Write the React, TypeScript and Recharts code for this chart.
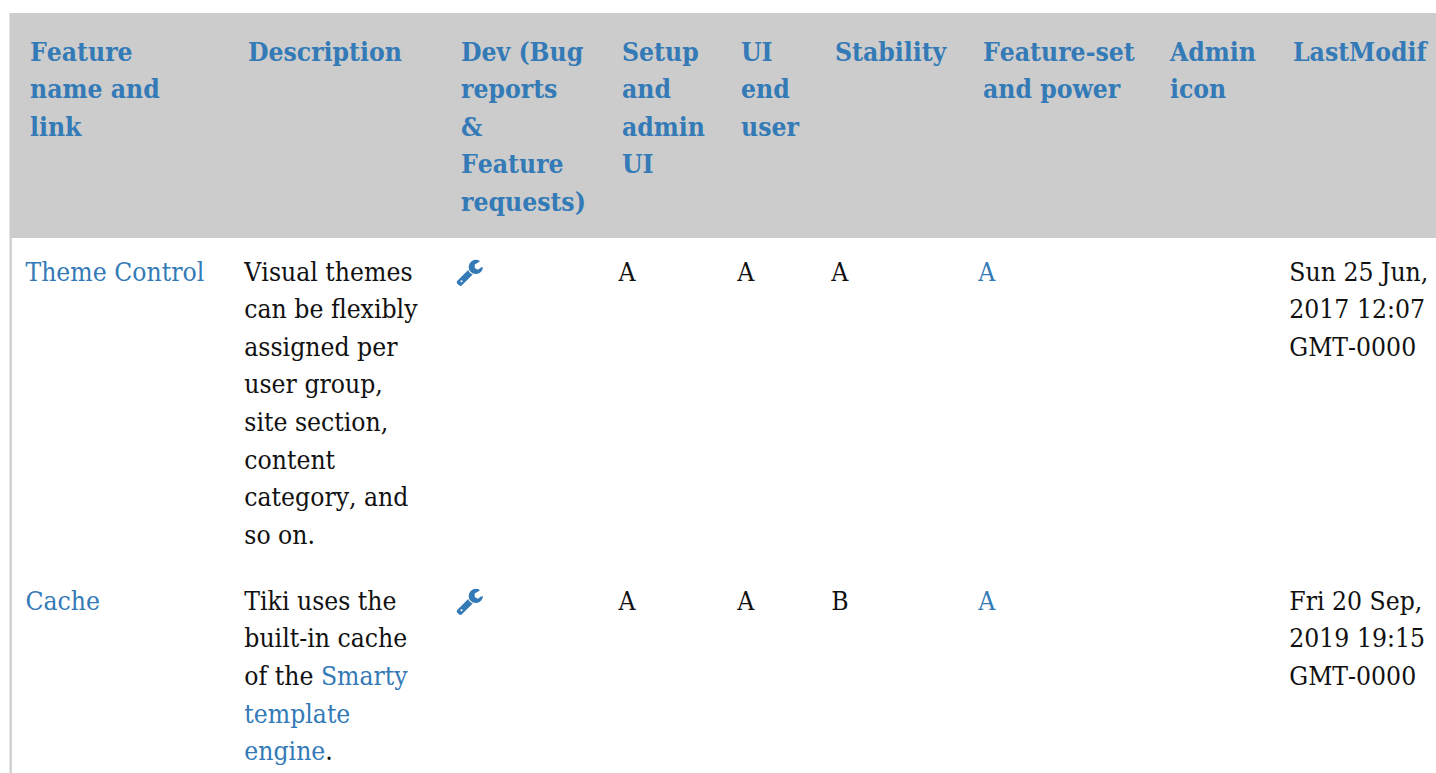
import { ScatterChart, Scatter, XAxis, YAxis, ReferenceArea, ReferenceLine } from "recharts";

const WIDTH = 1436;
const HEIGHT = 773;
const LINK = "#337ab7";
const FONT = "'DejaVu Serif Condensed', 'DejaVu Serif', serif";

// header labels, one entry per wrapped line
const headers = [
    ["Feature", "name and", "link"],
    ["Description"],
    ["Dev (Bug", "reports", "&", "Feature", "requests)"],
    ["Setup", "and", "admin", "UI"],
    ["UI", "end", "user"],
    ["Stability"],
    ["Feature-set", "and power"],
    ["Admin", "icon"],
    ["LastModif"],
];

// [text] marks a link inside a cell
const rowNames = ["[Theme Control]", "[Cache]"];
const rowDescriptions = [
    ["Visual themes", "can be flexibly", "assigned per", "user group,", "site section,", "content", "category, and", "so on."],
    ["Tiki uses the", "built-in cache", "of the [Smarty]", "[template]", "[engine]."],
];
const setupRatings = ["A", "A"];
const uiRatings = ["A", "A"];
const stabilityRatings = ["A", "B"];
const featureRatings = ["[A]", "[A]"];
const lastModified = [
    ["Sun 25 Jun,", "2017 12:07", "GMT-0000"],
    ["Fri 20 Sep,", "2019 19:15", "GMT-0000"],
];

const headerLefts = [30, 248, 461, 622, 741, 835, 983, 1170, 1293];
const columnLefts = [25.4, 244.3, 457, 618.4, 737.2, 831.2, 978.2, 1166, 1289.3];
const headerBaseline = 61;
const rowBaselines = [281, 610];
// lines snap to whole pixels, so the spacing is not quite even
const headerLineOffsets = [0, 37, 75, 112, 150];
const rowLineOffsets = [
    [0, 37, 75, 112, 150, 188, 225, 263],
    [0, 37, 75, 113, 150],
];

const WRENCH =
    "M448 1472q0-26-19-45t-45-19-45 19-19 45 19 45 45 19 45-19 19-45zm644-420l-682 682q-37 37-90 37-52 0-91-37l-106-108q-38-36-38-90 0-53 38-91l681-681q39 98 114.5 173.5t173.5 114.5zm634-435q0 39-23 106-47 134-164.5 217.5t-258.5 83.5q-185 0-316.5-131.5t-131.5-316.5 131.5-316.5 316.5-131.5q58 0 121.5 16.5t107.5 46.5q16 11 16 28t-16 28l-293 169v224l193 107q5-3 79-48.5t135.5-81 70.5-35.5q15 0 23.5 10t8.5 25z";

interface Cell {
    x: number;
    y: number;
    text?: string;
    bold?: boolean;
    icon?: boolean;
}

const cells: Cell[] = [];
headers.forEach((lines, col) => {
    lines.forEach((text, i) => {
        cells.push({ x: headerLefts[col], y: headerBaseline + headerLineOffsets[i], text, bold: true });
    });
});
rowBaselines.forEach((base, row) => {
    const columns: [number, string[]][] = [
        [0, [rowNames[row]]],
        [1, rowDescriptions[row]],
        [3, [setupRatings[row]]],
        [4, [uiRatings[row]]],
        [5, [stabilityRatings[row]]],
        [6, [featureRatings[row]]],
        [8, lastModified[row]],
    ];
    columns.forEach(([col, lines]) => {
        lines.forEach((text, i) => {
            cells.push({ x: columnLefts[col], y: base + rowLineOffsets[row][i], text });
        });
    });
    cells.push({ x: columnLefts[2], y: base, icon: true });
});

function CellMark(props: any) {
    const { cx, cy, payload } = props;
    if (payload.icon) {
        return (
            <g transform={`translate(${cx - 1.6},${cy - 23.2}) scale(0.0159)`}>
                <path d={WRENCH} fill={LINK} fillRule="evenodd" />
            </g>
        );
    }
    const parts = payload.text.split(/(\[[^\]]*\])/).filter(Boolean);
    return (
        <text
            x={cx}
            y={cy}
            fontFamily={FONT}
            fontSize={26.25}
            fontWeight={payload.bold ? 700 : 400}
            fill={payload.bold ? LINK : "#111"}
            style={{ fontKerning: "none" }}
        >
            {parts.map((p: string, i: number) =>
                p.startsWith("[") ? (
                    <tspan key={i} fill={LINK}>{p.slice(1, -1)}</tspan>
                ) : (
                    <tspan key={i}>{p}</tspan>
                )
            )}
        </text>
    );
}

export default function App() {
    return (
        <div style={{ position: "absolute", left: 0, top: 0, width: WIDTH, height: HEIGHT, background: "#fff" }}>
            <ScatterChart width={WIDTH} height={HEIGHT} margin={{ top: 0, right: 0, bottom: 0, left: 0 }}>
                <XAxis type="number" dataKey="x" domain={[0, WIDTH]} hide allowDataOverflow />
                <YAxis type="number" dataKey="y" domain={[0, HEIGHT]} reversed hide allowDataOverflow />
                <ReferenceArea x1={9.5} x2={WIDTH} y1={13} y2={238} fill="#cccccc" fillOpacity={1} stroke="none" />
                <ReferenceLine segment={[{ x: 10.7, y: 238 }, { x: 10.7, y: HEIGHT }]} stroke="#cccccc" strokeWidth={2.2} />
                <Scatter data={cells} shape={CellMark} isAnimationActive={false} />
            </ScatterChart>
        </div>
    );
}
